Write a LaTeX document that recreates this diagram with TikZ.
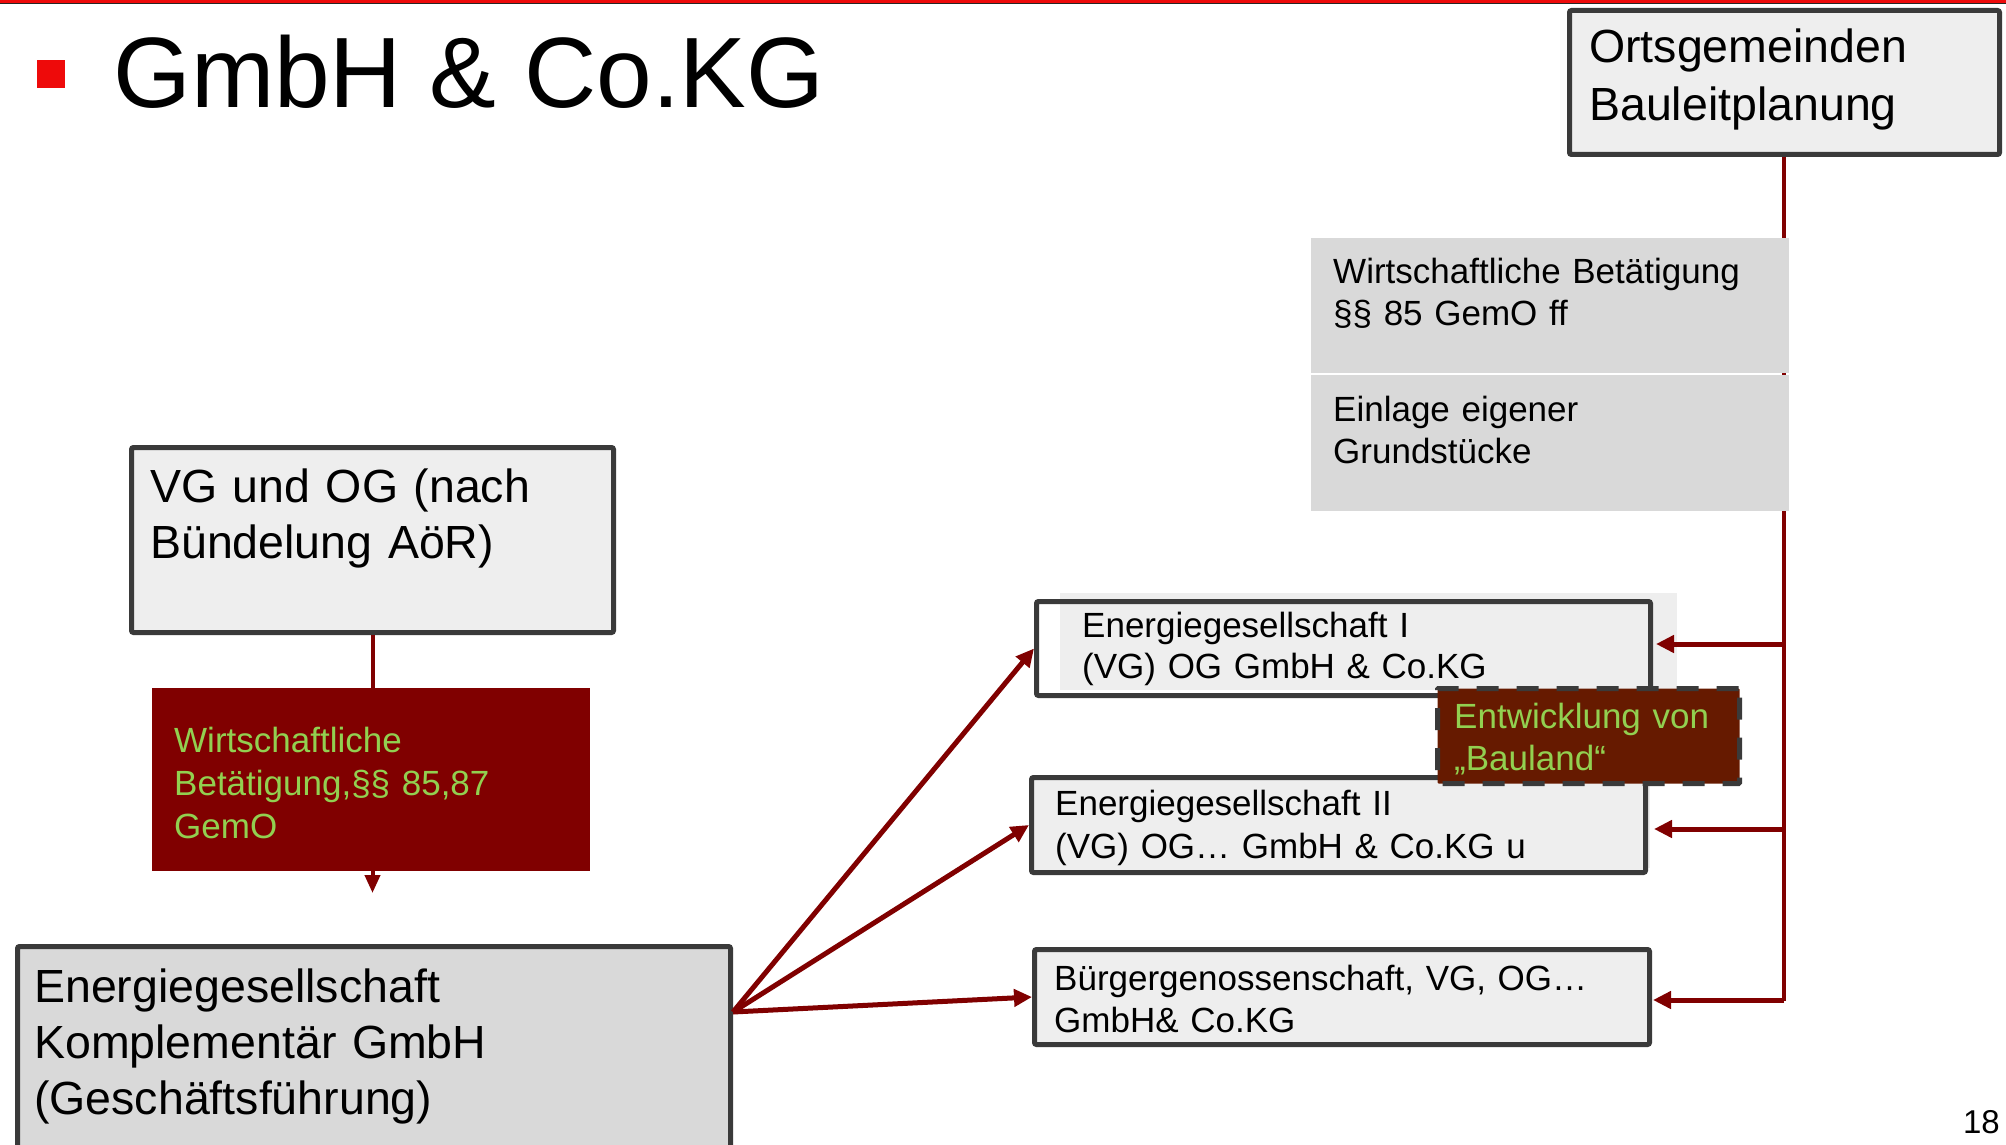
\documentclass[tikz,border=0pt]{standalone}
\usepackage{fontspec}
\setmainfont{Liberation Sans}
\usetikzlibrary{arrows.meta}
\definecolor{topred}{HTML}{EE0A0A}
\definecolor{lnred}{HTML}{800000}
\definecolor{bordc}{HTML}{3A3A3A}
\definecolor{lightc}{HTML}{EEEEEE}
\definecolor{grayc}{HTML}{D9D9D9}
\definecolor{greenc}{HTML}{92D050}
\definecolor{brownc}{HTML}{661A00}
\begin{document}
\begin{tikzpicture}[x=1pt,y=-1pt,
  frame/.style={draw=bordc, line width=5pt, rounded corners=2pt, anchor=north west, inner sep=0pt},
  plain/.style={anchor=north west, inner sep=0pt, draw=none},
  txt/.style={anchor=base west, inner sep=0pt, align=left, text width=#1},
  bigfont/.style={font=\fontsize{46.5}{57}\selectfont},
  smallfont/.style={font=\fontsize{35}{42}\selectfont},
  conn/.style={draw=lnred, line width=5pt},
  arr/.style={draw=lnred, line width=5pt, -{Triangle[length=18pt,width=17pt]}}
]
\useasboundingbox (0,0) rectangle (2006,1145);
% top rule
\fill[topred] (0,0) rectangle (2006,3);
\fill[black!85] (0,3) rectangle (2006,4.5);
% title
\node[plain, fill=topred, minimum width=28pt, minimum height=28pt] (bullet) at (37,60) {};
\node[anchor=base west, inner sep=0pt, font=\fontsize{100}{110}\selectfont] (title) at (113,108) {GmbH \& Co.KG};
% Ortsgemeinden
\node[frame, fill=lightc, minimum width=430pt, minimum height=144pt] (orts) at (1567,8) {};
\node[txt=400pt, bigfont] (ortst) at (1589,63) {Ortsgemeinden\\[1pt]Bauleitplanung};
% vertical connector
\coordinate (vend) at (1784,1001);
\draw[draw=lnred, line width=4pt] (orts.south -| vend) -- (vend);
% gray boxes
\node[plain, fill=grayc, minimum width=478pt, minimum height=135pt] (wb1) at (1311,238) {};
\node[txt=460pt, smallfont] (wb1t) at (1333,283) {Wirtschaftliche Betätigung\\§§ 85 GemO ff};
\node[plain, fill=grayc, minimum width=478pt, minimum height=136pt] (wb2) at (1311,375) {};
\node[txt=460pt, smallfont] (wb2t) at (1333,421) {Einlage eigener\\Grundstücke};
% VG box and red box
\node[frame, fill=lightc, minimum width=482pt, minimum height=185pt] (vg) at (129,445) {};
\node[txt=460pt, bigfont] (vgt) at (150,502) {VG und OG (nach\\[-1pt]Bündelung AöR)};
\coordinate (vgtip) at (vg.south |- 0,893);
\draw[draw=lnred, line width=4pt, -{Triangle[length=18pt,width=15pt]}] (vg.south) -- (vgtip);
\node[plain, fill=lnred, minimum width=438pt, minimum height=183pt] (red) at (152,688) {};
\node[txt=420pt, font=\fontsize{35}{43}\selectfont, text=greenc] (redt) at (174,752) {Wirtschaftliche\\Betätigung,§§ 85,87\\GemO};
% Komplementaer box
\node[frame, fill=grayc, minimum width=713pt, minimum height=220pt] (komp) at (15,944) {};
\node[txt=700pt, bigfont] (kompt) at (34,1002) {Energiegesellschaft\\[-1pt]Komplementär GmbH\\[-1pt](Geschäftsführung)};
% Energiegesellschaft I
\node[plain, fill=lightc, minimum width=617pt, minimum height=97pt] (e1fill) at (1060,593) {};
\node[frame, fill=none, minimum width=614pt, minimum height=94pt] (e1) at (1034,599) {};
\node[txt=600pt, font=\fontsize{35}{41}\selectfont] (e1t) at (1082,637) {Energiegesellschaft I\\(VG) OG GmbH \& Co.KG};
% Energiegesellschaft II
\node[plain, fill=lightc, minimum width=620pt, minimum height=92pt] (e2fill) at (1030,776) {};
\node[frame, fill=lightc, minimum width=614pt, minimum height=95pt] (e2) at (1029,775) {};
\node[txt=600pt, font=\fontsize{35}{43}\selectfont] (e2t) at (1055,815) {Energiegesellschaft II\\(VG) OG… GmbH \& Co.KG u};
% Buergergenossenschaft
\node[frame, fill=lightc, minimum width=615pt, minimum height=95pt] (bg) at (1032,947) {};
\node[txt=600pt, smallfont] (bgt) at (1054,990) {Bürgergenossenschaft, VG, OG…\\GmbH\& Co.KG};
% connectors from Komplementaer
\coordinate (src) at (komp.east |- 0,1012);
\draw[arr] (src) -- (e1.west);
\draw[arr] (src) -- (e2.west);
\draw[arr] (src) -- (bg.west);
% connectors from the vertical line
\coordinate (j1) at (1784,644);
\coordinate (j2) at (1784,829);
\coordinate (j3) at (1784,1000);
\draw[arr, shorten >=3pt] (j1) -- (e1.east |- j1);
\draw[arr, shorten >=6pt] (j2) -- (e2.east |- j2);
\draw[arr, shorten >=1pt] (j3) -- (bg.east |- j3);
% Entwicklung von Bauland
\node[frame, fill=brownc, dash pattern=on 22pt off 18pt, rounded corners=1pt, minimum width=302pt, minimum height=95pt] (ent) at (1435,686) {};
\node[txt=290pt, smallfont, text=greenc] (entt) at (1454,728) {Entwicklung von\\„Bauland“};
% page number
\node[anchor=base east, inner sep=0pt, font=\fontsize{33}{40}\selectfont] (pg) at (2000,1133) {18};
\end{tikzpicture}
\end{document}
